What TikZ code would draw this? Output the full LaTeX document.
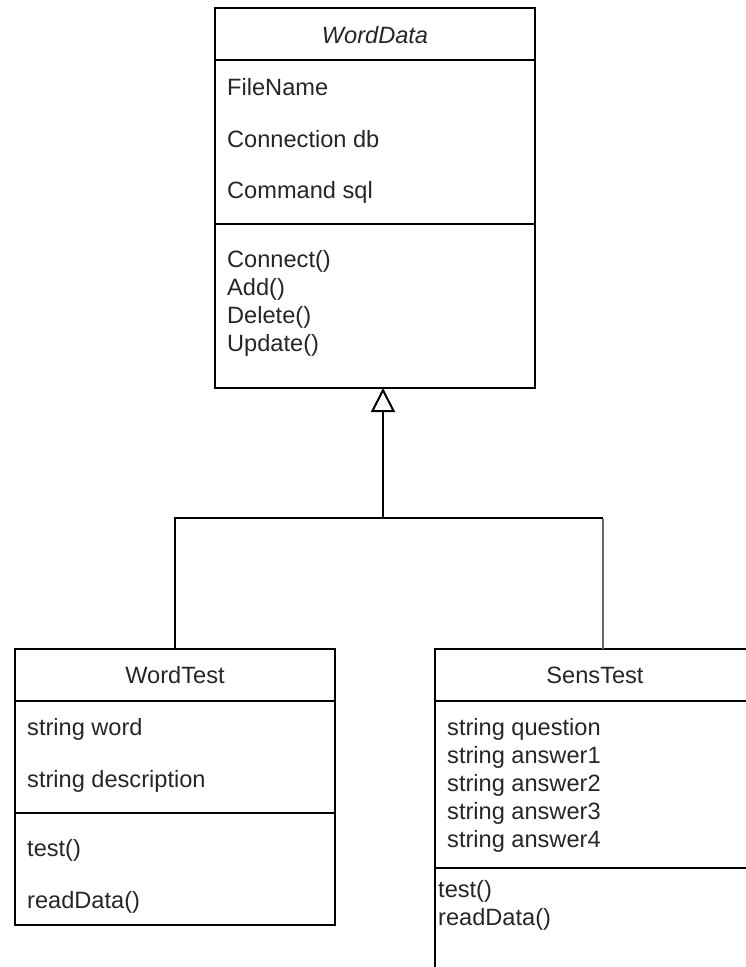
\documentclass[tikz,border=0pt]{standalone}
\usepackage{fontspec}
\setmainfont{Liberation Sans}
\usetikzlibrary{positioning,arrows.meta}

\tikzset{
  classpart/.style={draw, line width=2pt, outer sep=0pt, inner sep=0pt, minimum width=320pt},
  member/.style={anchor=base west, inner sep=0pt, text=black!85},
  title/.style={anchor=base, inner sep=0pt, text=black!85},
  link/.style={line width=2pt}
}

\begin{document}
\begin{tikzpicture}[x=1pt, y=-1pt, font=\fontsize{23.6}{28.3}\selectfont]
    \useasboundingbox (0,0) rectangle (746,967);
    \clip (0,0) rectangle (746,967);

    % WordData
    \node[classpart, anchor=north west, minimum height=52pt] (wd-head) at (215,8) {};
    \node[classpart, below=0pt of wd-head, minimum height=164pt] (wd-attr) {};
    \node[classpart, below=0pt of wd-attr, minimum height=164pt] (wd-meth) {};
    \node[title, font=\fontsize{23.6}{28.3}\selectfont\itshape] (wd-name) at (375,43) {WordData};
    \node[member] (wd-file) at (227,95) {FileName};
    \node[member] (wd-conn) at (227,147) {Connection db};
    \node[member] (wd-cmd) at (227,198) {Command sql};
    \node[member] (wd-connect) at (227,267) {Connect()};
    \node[member] (wd-add) at (227,295) {Add()};
    \node[member] (wd-delete) at (227,323) {Delete()};
    \node[member] (wd-update) at (227,351) {Update()};

    % WordTest
    \node[classpart, anchor=north west, minimum height=52pt] (wt-head) at (15,649) {};
    \node[classpart, below=0pt of wt-head, minimum height=112pt] (wt-attr) {};
    \node[classpart, below=0pt of wt-attr, minimum height=112pt] (wt-meth) {};
    \node[title] (wt-name) at (175,683) {WordTest};
    \node[member] (wt-word) at (27,735) {string word};
    \node[member] (wt-desc) at (27,787) {string description};
    \node[member] (wt-test) at (27,856) {test()};
    \node[member] (wt-read) at (27,908) {readData()};

    % SensTest (cut off by the page)
    \node[classpart, anchor=north west, minimum height=52pt] (st-head) at (435,649) {};
    \node[classpart, below=0pt of st-head, minimum height=167pt] (st-attr) {};
    \node[classpart, below=0pt of st-attr, minimum height=160pt] (st-meth) {};
    \node[title] (st-name) at (595,683) {SensTest};
    \node[member] (st-quest) at (447,735) {string question};
    \foreach \i in {1,...,4}
        \node[member] (st-ans\i) at (447,735+28*\i) {string answer\i};
    \node[member] (st-test) at (438,897) {test()};
    \node[member] (st-read) at (438,925) {readData()};

    % Generalisation
    \coordinate (join) at (383,518);
    \coordinate (st-top) at ([xshift=8pt]st-head.north);
    \coordinate (corner) at (join -| st-top);
    \draw[link, black!60, line width=2.5pt] (st-top) -- ([yshift=-1pt]corner);
    \draw[link] (wt-head.north) |- (join) -- (corner);
    \draw[link, -{Triangle[open, length=24pt, width=24pt]}] (join) -- (wd-meth.south -| join);
\end{tikzpicture}
\end{document}
